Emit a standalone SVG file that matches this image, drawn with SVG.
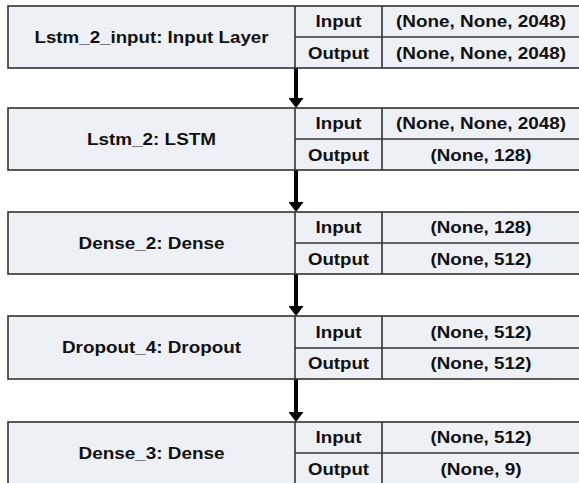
<svg xmlns="http://www.w3.org/2000/svg" width="579" height="483" viewBox="0 0 579 483">
<style>
.box{fill:#edf0f5;stroke:#333;stroke-width:1.6}
.div{stroke:#333;stroke-width:1.6;fill:none}
.t{font-family:"Liberation Sans",Arial,sans-serif;font-weight:bold;font-size:16px;fill:#111;text-anchor:middle}
.arr{stroke:#000;stroke-width:4;fill:none}
</style>
<defs>
<marker id="ah" markerUnits="userSpaceOnUse" viewBox="0 0 10 15" refX="0" refY="7.5" markerWidth="10" markerHeight="15" orient="auto">
<path d="M0,0 L10,7.5 L0,15 Z" fill="#000"/>
</marker>
</defs>
<rect width="579" height="483" fill="#fff"/>
<g id="connectors">
<line class="arr" x1="296" y1="68" x2="296" y2="98" marker-end="url(#ah)"/>
<line class="arr" x1="296" y1="170" x2="296" y2="202" marker-end="url(#ah)"/>
<line class="arr" x1="296" y1="274" x2="296" y2="306" marker-end="url(#ah)"/>
<line class="arr" x1="296" y1="379" x2="296" y2="412" marker-end="url(#ah)"/>
</g>
<g id="lstm_2_input">
<rect class="box" x="8" y="6" width="575" height="62"/>
<path class="div" d="M295,6 V68 M382,6 V68 M295,37 H583"/>
<text class="t" x="151.5" y="42.5" textLength="234" lengthAdjust="spacingAndGlyphs">Lstm_2_input: Input Layer</text>
<text class="t" x="338.5" y="27" textLength="46" lengthAdjust="spacingAndGlyphs">Input</text>
<text class="t" x="338.5" y="58.5" textLength="61" lengthAdjust="spacingAndGlyphs">Output</text>
<text class="t" x="481" y="27" textLength="170" lengthAdjust="spacingAndGlyphs">(None, None, 2048)</text>
<text class="t" x="481" y="58.5" textLength="170" lengthAdjust="spacingAndGlyphs">(None, None, 2048)</text>
</g>
<g id="lstm_2">
<rect class="box" x="8" y="108" width="575" height="62"/>
<path class="div" d="M295,108 V170 M382,108 V170 M295,139 H583"/>
<text class="t" x="151.5" y="144.5" textLength="129" lengthAdjust="spacingAndGlyphs">Lstm_2: LSTM</text>
<text class="t" x="338.5" y="129" textLength="46" lengthAdjust="spacingAndGlyphs">Input</text>
<text class="t" x="338.5" y="160.5" textLength="61" lengthAdjust="spacingAndGlyphs">Output</text>
<text class="t" x="481" y="129" textLength="170" lengthAdjust="spacingAndGlyphs">(None, None, 2048)</text>
<text class="t" x="481" y="160.5" textLength="101" lengthAdjust="spacingAndGlyphs">(None, 128)</text>
</g>
<g id="dense_2">
<rect class="box" x="8" y="212" width="575" height="62"/>
<path class="div" d="M295,212 V274 M382,212 V274 M295,243 H583"/>
<text class="t" x="151.5" y="248.5" textLength="146" lengthAdjust="spacingAndGlyphs">Dense_2: Dense</text>
<text class="t" x="338.5" y="233" textLength="46" lengthAdjust="spacingAndGlyphs">Input</text>
<text class="t" x="338.5" y="264.5" textLength="61" lengthAdjust="spacingAndGlyphs">Output</text>
<text class="t" x="481" y="233" textLength="101" lengthAdjust="spacingAndGlyphs">(None, 128)</text>
<text class="t" x="481" y="264.5" textLength="101" lengthAdjust="spacingAndGlyphs">(None, 512)</text>
</g>
<g id="dropout_4">
<rect class="box" x="8" y="316" width="575" height="63"/>
<path class="div" d="M295,316 V379 M382,316 V379 M295,348 H583"/>
<text class="t" x="151.5" y="353" textLength="179" lengthAdjust="spacingAndGlyphs">Dropout_4: Dropout</text>
<text class="t" x="338.5" y="337.5" textLength="46" lengthAdjust="spacingAndGlyphs">Input</text>
<text class="t" x="338.5" y="369" textLength="61" lengthAdjust="spacingAndGlyphs">Output</text>
<text class="t" x="481" y="337.5" textLength="101" lengthAdjust="spacingAndGlyphs">(None, 512)</text>
<text class="t" x="481" y="369" textLength="101" lengthAdjust="spacingAndGlyphs">(None, 512)</text>
</g>
<g id="dense_3">
<rect class="box" x="8" y="422" width="575" height="68"/>
<path class="div" d="M295,422 V490 M382,422 V490 M295,453 H583"/>
<text class="t" x="151.5" y="459" textLength="146" lengthAdjust="spacingAndGlyphs">Dense_3: Dense</text>
<text class="t" x="338.5" y="443" textLength="46" lengthAdjust="spacingAndGlyphs">Input</text>
<text class="t" x="338.5" y="474.5" textLength="61" lengthAdjust="spacingAndGlyphs">Output</text>
<text class="t" x="481" y="443" textLength="101" lengthAdjust="spacingAndGlyphs">(None, 512)</text>
<text class="t" x="481" y="474.5" textLength="81" lengthAdjust="spacingAndGlyphs">(None, 9)</text>
</g>
</svg>
